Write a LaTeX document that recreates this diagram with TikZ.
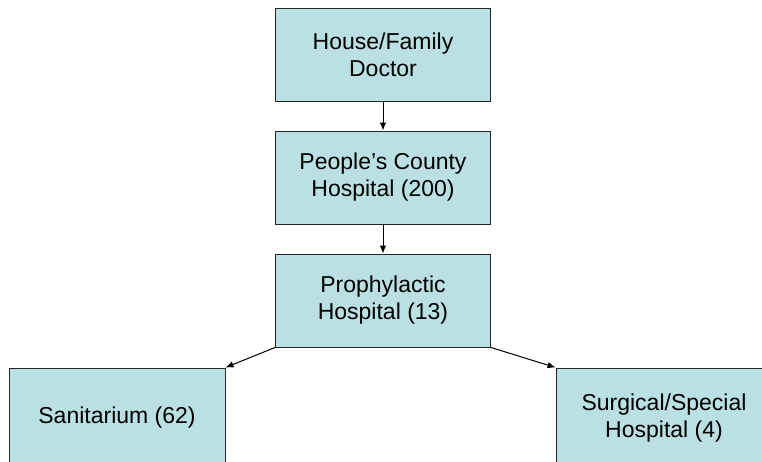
\documentclass[tikz,border=0pt]{standalone}
\usepackage{fontspec}
\setmainfont{Liberation Sans}
\usepackage{tikz}
\usetikzlibrary{arrows.meta,positioning}
\definecolor{boxfill}{RGB}{186,224,227}
\tikzstyle{block} = [draw=black!85, rectangle, fill=boxfill, line width=1pt,
    minimum height=93pt, minimum width=215pt, inner sep=0pt, align=center,
    font=\fontsize{23}{27}\selectfont]
\tikzstyle{connector} = [-{Latex[length=8pt,width=6.5pt]}, line width=1pt]

\begin{document}
\begin{tikzpicture}[x=1pt,y=-1pt]
		\useasboundingbox (0,0) rectangle (762,461);
		\clip (0,0) rectangle (762,461);
		
		\node[block] (doctor) at (383,54.5) {House/Family\\Doctor};
		\node[block, below=29pt of doctor] (county) {People's County\\Hospital (200)};
		\node[block, below=29pt of county] (prophy) {Prophylactic\\Hospital (13)};
		
		\node[block, minimum height=100pt, minimum width=216pt] (sanit) at (117,418) {Sanitarium (62)};
		\node[block, minimum height=100pt, minimum width=216pt] (surgical) at (664,418) {Surgical/Special\\Hospital (4)};
		
		\draw[connector] (doctor) to (county);
		\draw[connector] (county) to (prophy);
		\draw[connector] (prophy.south west) to (sanit.north east);
		\draw[connector] (prophy.south east) to (surgical.north west);
	\end{tikzpicture}
\end{document}
